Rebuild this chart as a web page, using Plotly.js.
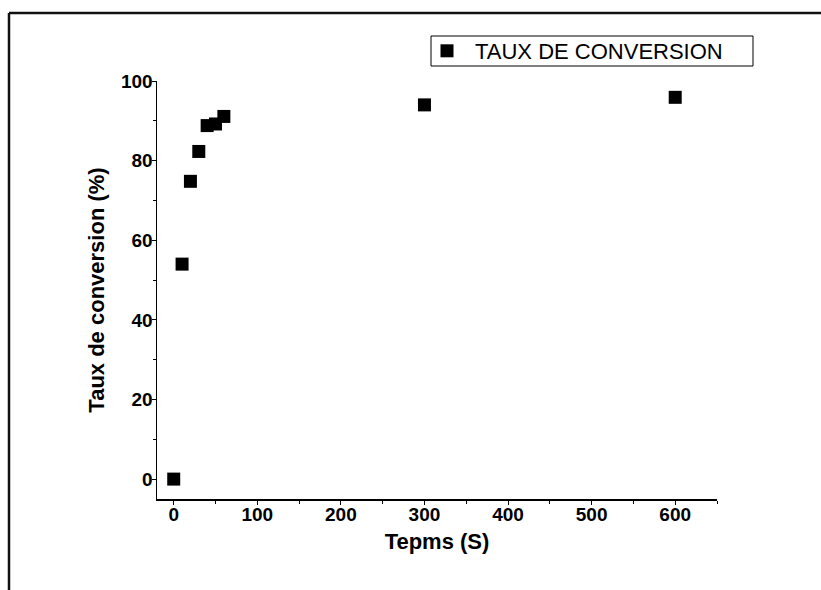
<!DOCTYPE html>
<html>
<head>
<meta charset="utf-8">
<script src="https://cdn.plot.ly/plotly-3.0.1.min.js"></script>
<style>
  html, body { margin: 0; padding: 0; background: #ffffff; }
  #chart { width: 821px; height: 590px; }
</style>
</head>
<body>
<div id="chart"></div>
<script>
// Data
const timeSeconds = [0, 10, 20, 30, 40, 50, 60, 300, 600];
const conversionPct = [0, 54.0, 74.8, 82.3, 88.8, 89.2, 91.1, 94.0, 95.9];
const seriesName = 'TAUX DE CONVERSION';
const xTickValues = [0, 100, 200, 300, 400, 500, 600];
const yTickValues = [0, 20, 40, 60, 80, 100];

const W = 821, H = 590;
const margin = {l: 157, r: 104, t: 81, b: 91};
const plotW = W - margin.l - margin.r;
const plotH = H - margin.t - margin.b;
// convert pixel positions to paper coords
const px = x => (x - margin.l) / plotW;
const py = y => (H - margin.b - y) / plotH;

const font = 'Liberation Sans, Arial, sans-serif';

const trace = {
  x: timeSeconds,
  y: conversionPct,
  type: 'scatter',
  mode: 'markers',
  name: seriesName,
  marker: {symbol: 'square', size: 13, color: '#000000', line: {width: 0}},
  showlegend: true
};

const layout = {
  width: W, height: H,
  margin: margin,
  paper_bgcolor: '#ffffff',
  plot_bgcolor: '#ffffff',
  showlegend: true,
  xaxis: {
    range: [-20, 650],
    tickvals: xTickValues,
    ticks: 'outside', ticklen: 4, tickwidth: 1, tickcolor: '#000',
    minor: {ticks: 'outside', ticklen: 3, dtick: 50, tick0: 0, tickcolor: '#000'},
    showline: true, linecolor: '#000', linewidth: 1.5,
    showgrid: false, zeroline: false,
    ticklabelstandoff: -6,
    tickfont: {family: font, size: 19, color: '#000', weight: 'bold'},
    title: {text: '<b>Tepms (S)</b>', font: {family: font, size: 22, color: '#000'}, standoff: 9}
  },
  yaxis: {
    range: [-5, 100],
    tickvals: yTickValues,
    ticks: 'outside', ticklen: 4, tickwidth: 1, tickcolor: '#000',
    minor: {ticks: 'outside', ticklen: 3, dtick: 10, tick0: 0, tickcolor: '#000'},
    showline: true, linecolor: '#000', linewidth: 1.5,
    showgrid: false, zeroline: false,
    ticklabelstandoff: -5,
    tickfont: {family: font, size: 19, color: '#000', weight: 'bold'},
    title: {text: '<b>Taux de conversion (%)</b>', font: {family: font, size: 22, color: '#000'}, standoff: 10}
  },
  legend: {
    x: px(419), y: py(51), xanchor: 'left', yanchor: 'middle',
    bgcolor: 'rgba(0,0,0,0)', borderwidth: 0,
    itemwidth: 46,
    font: {family: font, size: 22, color: '#000'}
  },
  shapes: [
    // legend frame
    {type: 'rect', xref: 'paper', yref: 'paper', x0: px(431), x1: px(753), y0: py(36), y1: py(66),
     line: {color: '#000', width: 1}, fillcolor: 'rgba(0,0,0,0)'},
    // outer frame: left and top edges
    {type: 'line', xref: 'paper', yref: 'paper', x0: px(9), x1: px(9), y0: py(13), y1: py(600),
     line: {color: '#111', width: 2.5}},
    {type: 'line', xref: 'paper', yref: 'paper', x0: px(9), x1: px(830), y0: py(13), y1: py(13),
     line: {color: '#111', width: 2.5}}
  ]
};

Plotly.newPlot('chart', [trace], layout, {displayModeBar: false, staticPlot: true});
</script>
</body>
</html>
